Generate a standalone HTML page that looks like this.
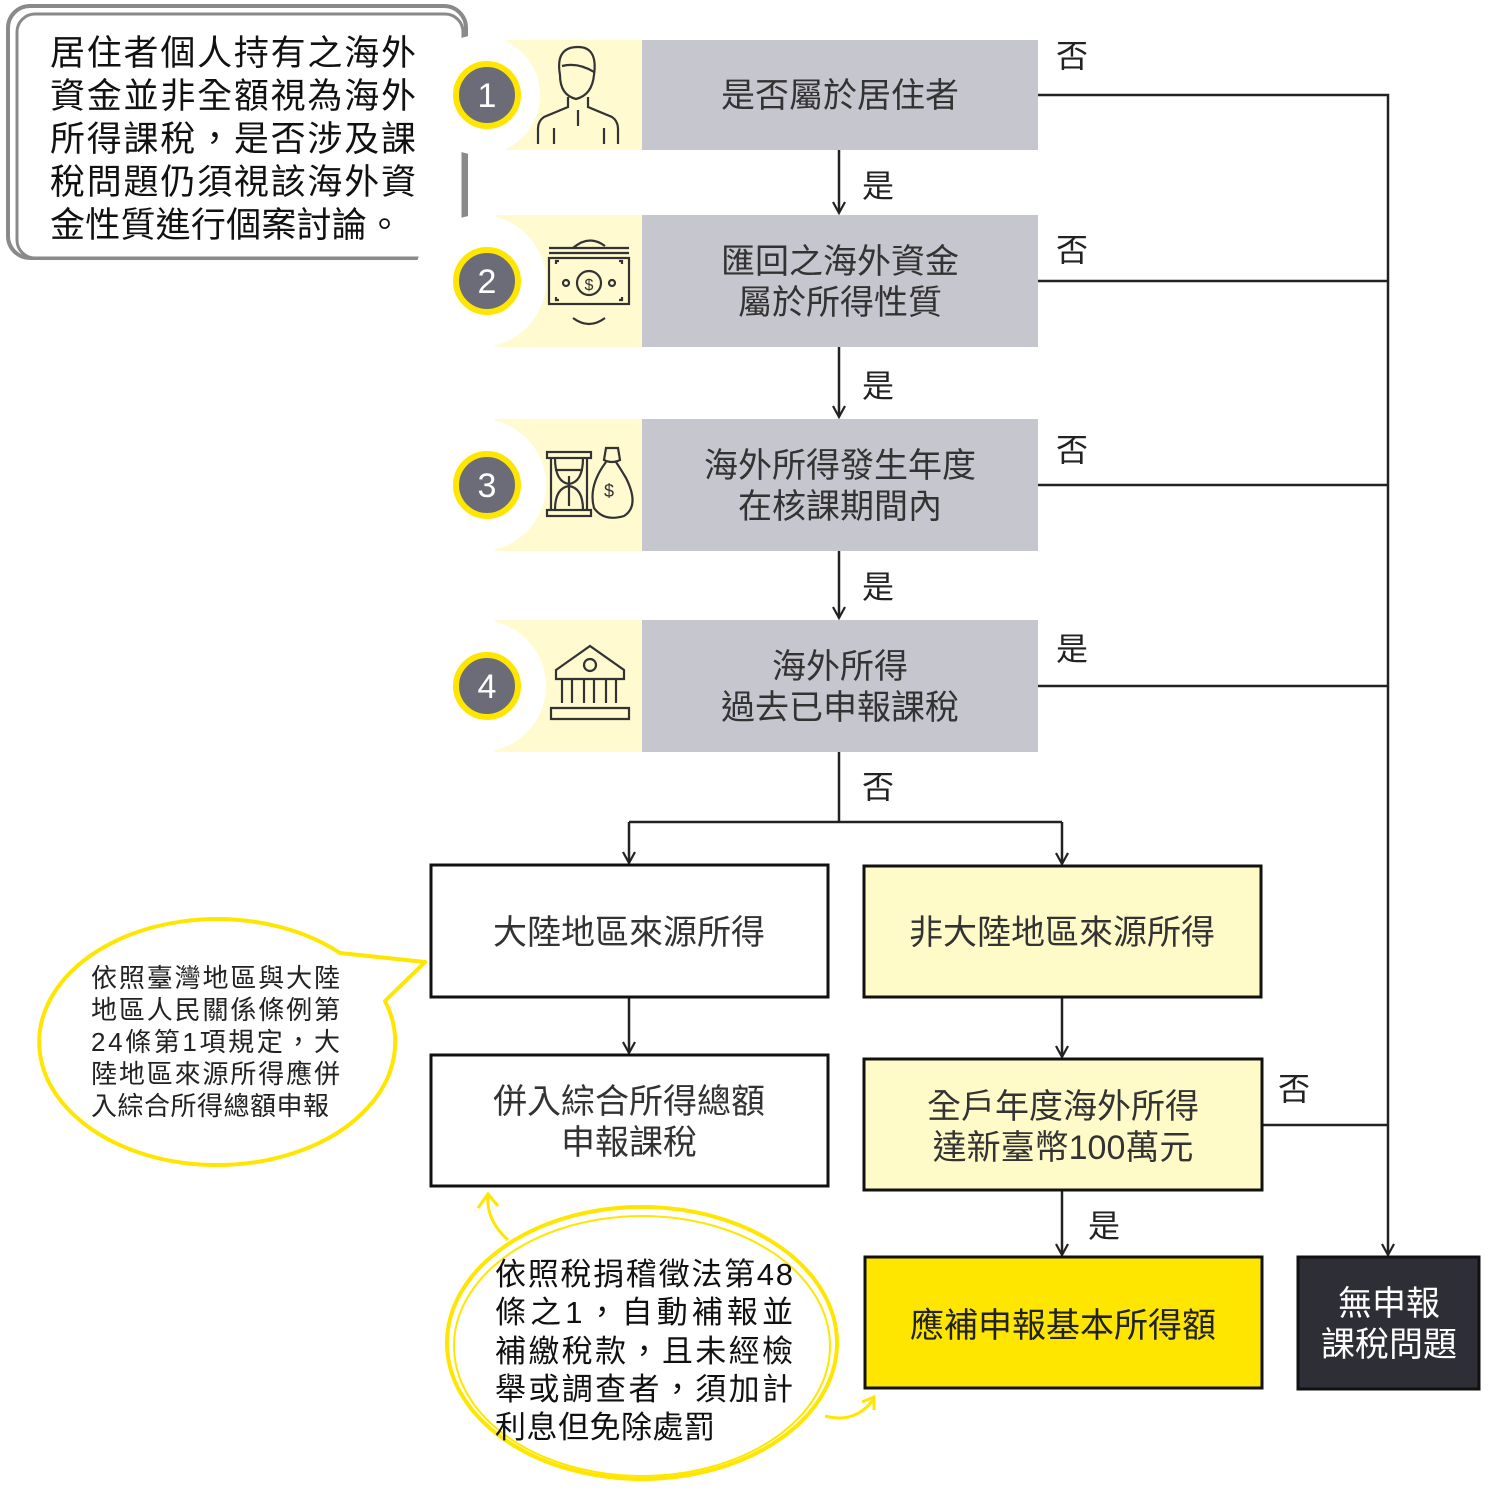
<!DOCTYPE html>
<html><head><meta charset="utf-8"><style>
html,body{margin:0;padding:0;background:#fff;}
svg{display:block}
text{font-family:"Liberation Sans","Noto Sans CJK TC",sans-serif;}
</style></head><body>
<svg width="1491" height="1491" viewBox="0 0 1491 1491" xmlns="http://www.w3.org/2000/svg">
<defs>
<marker id="ar" markerWidth="16" markerHeight="16" refX="13" refY="7" orient="auto" markerUnits="userSpaceOnUse">
<path d="M2,1 L13,7 L2,13" fill="none" stroke="#222" stroke-width="2.2"/>
</marker>
</defs>
<!-- callout top-left -->
<rect x="8" y="6" width="458" height="252" rx="22" fill="#fff" stroke="#8a8a8a" stroke-width="4"/>
<rect x="17" y="14" width="446" height="244" rx="18" fill="#fff" stroke="#8a8a8a" stroke-width="3"/>
<g font-size="35" fill="#111">
<text x="50" y="65" textLength="366">居住者個人持有之海外</text>
<text x="50" y="108" textLength="366">資金並非全額視為海外</text>
<text x="50" y="151" textLength="366">所得課稅，是否涉及課</text>
<text x="50" y="194" textLength="366">稅問題仍須視該海外資</text>
<text x="50" y="237" textLength="352">金性質進行個案討論。</text>
</g>
<!-- rows -->
<g>
<rect x="495" y="40" width="147" height="110" fill="#fffad0"/>
<rect x="642" y="40" width="396" height="110" fill="#c6c6ce"/>
<circle cx="480" cy="95" r="60" fill="#fff"/>
<rect x="495" y="215" width="147" height="132" fill="#fffad0"/>
<rect x="642" y="215" width="396" height="132" fill="#c6c6ce"/>
<circle cx="480" cy="281" r="66" fill="#fff"/>
<rect x="495" y="419" width="147" height="132" fill="#fffad0"/>
<rect x="642" y="419" width="396" height="132" fill="#c6c6ce"/>
<circle cx="480" cy="485" r="66" fill="#fff"/>
<rect x="495" y="620" width="147" height="132" fill="#fffad0"/>
<rect x="642" y="620" width="396" height="132" fill="#c6c6ce"/>
<circle cx="480" cy="686" r="66" fill="#fff"/>
</g>
<g fill="#6c6c78" stroke="#ffe600" stroke-width="6">
<circle cx="487" cy="95" r="31"/><circle cx="487" cy="281" r="31"/><circle cx="487" cy="485" r="31"/><circle cx="487" cy="686" r="31"/>
</g>
<g fill="#fff" font-size="34" text-anchor="middle">
<text x="487" y="107">1</text><text x="487" y="293">2</text><text x="487" y="497">3</text><text x="487" y="698">4</text>
</g>
<!-- icons -->
<g fill="none" stroke="#333" stroke-width="2.2">
<path d="M560,75 q-5,-28 18,-28 q20,0 16,28 q-2,20 -18,24 q-16,-4 -16,-24z"/>
<path d="M562,66 q16,-4 32,6"/>
<path d="M568,97 v10 l-24,10 q-6,4 -6,12 v15 M588,97 v10 l24,10 q6,4 6,12 v15 M554,128 v16 M604,128 v16 M578,110 v16"/>
<rect x="549" y="258" width="80" height="46"/><path d="M549,253 h80 M549,248 h80 M556,264 v-3 h3 M556,297 v3 h3 M622,264 v-3 h-3 M622,297 v3 h-3"/>
<circle cx="589" cy="283" r="12"/><circle cx="566" cy="283" r="3"/><circle cx="612" cy="283" r="3"/>
<path d="M573,248 q16,-14 32,-2 M605,318 q-16,12 -32,0"/>
<rect x="547" y="452" width="44" height="6"/><rect x="547" y="510" width="44" height="6"/>
<path d="M551,458 v52 M587,458 v52 M555,458 q0,24 14,26 q14,-2 14,-26 M555,510 q0,-22 14,-24 q14,2 14,24 M555,470 h28 M569,476 v30"/>
<path d="M604,460 q8,4 16,0 l-2,-12 h-12z M606,462 q-18,24 -12,46 q10,14 30,8 q16,-10 2,-38 q-6,-10 -10,-16"/>
<path d="M556,670 l34,-24 l34,24 v9 h-68z M562,679 v24 M572,679 v24 M584,679 v24 M594,679 v24 M606,679 v24 M616,679 v24 M551,708 h78 v11 h-78z"/>
<circle cx="590" cy="665" r="6"/>
</g>
<text x="609" y="497" font-size="18" fill="#333" text-anchor="middle">$</text>
<text x="589" y="290" font-size="16" fill="#333" text-anchor="middle">$</text>
<!-- gray box text -->
<g font-size="34" fill="#333" text-anchor="middle">
<text x="840" y="107">是否屬於居住者</text>
<text x="840" y="273">匯回之海外資金</text><text x="840" y="314">屬於所得性質</text>
<text x="840" y="477">海外所得發生年度</text><text x="840" y="518">在核課期間內</text>
<text x="840" y="678">海外所得</text><text x="840" y="719">過去已申報課稅</text>
</g>
<!-- lines -->
<g stroke="#222" stroke-width="2.5" fill="none">
<path d="M1038,95 H1388 V1255" marker-end="url(#ar)"/>
<path d="M1038,281 H1388 M1038,485 H1388 M1038,686 H1388 M1262,1125 H1388"/>
<path d="M839,150 V213" marker-end="url(#ar)"/>
<path d="M839,347 V417" marker-end="url(#ar)"/>
<path d="M839,551 V618" marker-end="url(#ar)"/>
<path d="M839,752 V822 M629,822 H1062"/>
<path d="M629,822 V863" marker-end="url(#ar)"/>
<path d="M1062,822 V864" marker-end="url(#ar)"/>
<path d="M629,997 V1053" marker-end="url(#ar)"/>
<path d="M1062,997 V1057" marker-end="url(#ar)"/>
<path d="M1062,1190 V1255" marker-end="url(#ar)"/>
</g>
<g font-size="32" fill="#222">
<text x="1056" y="67">否</text><text x="1056" y="261">否</text><text x="1056" y="461">否</text><text x="1056" y="660">是</text>
<text x="862" y="197">是</text><text x="862" y="397">是</text><text x="862" y="598">是</text><text x="862" y="798">否</text>
<text x="1278" y="1100">否</text><text x="1088" y="1237">是</text>
</g>
<!-- lower boxes -->
<g stroke="#111" stroke-width="3">
<rect x="431" y="865" width="397" height="132" fill="#fff"/>
<rect x="864" y="866" width="397" height="131" fill="#fffbc8"/>
<rect x="431" y="1055" width="397" height="131" fill="#fff"/>
<rect x="864" y="1059" width="398" height="131" fill="#fffbc8"/>
<rect x="865" y="1257" width="397" height="131" fill="#ffe600"/>
<rect x="1298" y="1257" width="181" height="132" fill="#2e2e36"/>
</g>
<g font-size="34" fill="#333" text-anchor="middle">
<text x="629" y="944">大陸地區來源所得</text>
<text x="1062" y="944">非大陸地區來源所得</text>
<text x="629" y="1113">併入綜合所得總額</text><text x="629" y="1154">申報課稅</text>
<text x="1063" y="1118">全戶年度海外所得</text><text x="1063" y="1159">達新臺幣100萬元</text>
<text x="1063" y="1337" fill="#222">應補申報基本所得額</text>
<text x="1389" y="1315" fill="#fff">無申報</text><text x="1389" y="1356" fill="#fff">課稅問題</text>
</g>
<!-- left ellipse callout -->
<path d="M340,953 L425,962 L385,1001 A178,123 0 1,1 340,953 Z" fill="#fff" stroke="#ffe600" stroke-width="4" stroke-linejoin="round"/>
<g font-size="26" fill="#222">
<text x="91" y="987" textLength="249">依照臺灣地區與大陸</text>
<text x="91" y="1019" textLength="249">地區人民關係條例第</text>
<text x="91" y="1051" textLength="249">24條第1項規定，大</text>
<text x="91" y="1083" textLength="249">陸地區來源所得應併</text>
<text x="91" y="1115" textLength="238">入綜合所得總額申報</text>
</g>
<!-- bottom ellipse -->
<ellipse cx="642" cy="1343" rx="195" ry="136" fill="#fff" stroke="#ffe600" stroke-width="4"/>
<ellipse cx="642" cy="1346" rx="188" ry="130" fill="none" stroke="#ffe600" stroke-width="2"/>
<path d="M508,1240 q-22,-20 -20,-44 M478,1208 l10,-14 l10,12" fill="none" stroke="#ffe600" stroke-width="3"/>
<path d="M825,1416 q30,8 48,-16 M862,1402 l12,-5 l0,13" fill="none" stroke="#ffe600" stroke-width="3"/>
<g font-size="31" fill="#111">
<text x="495" y="1285" textLength="298">依照稅捐稽徵法第48</text>
<text x="495" y="1323" textLength="298">條之1，自動補報並</text>
<text x="495" y="1362" textLength="298">補繳稅款，且未經檢</text>
<text x="495" y="1400" textLength="298">舉或調查者，須加計</text>
<text x="495" y="1438" textLength="220">利息但免除處罰</text>
</g>
</svg>
</body></html>
